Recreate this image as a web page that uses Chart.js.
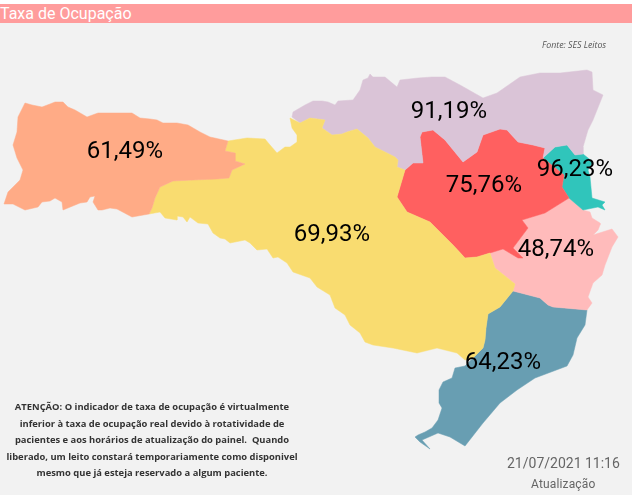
<!DOCTYPE html>
<html lang="pt">
<head>
<meta charset="utf-8">
<script src="https://cdn.jsdelivr.net/npm/chart.js@4"></script>
<style>
  html, body { margin: 0; padding: 0; background: #fff; }
  #page { position: relative; width: 640px; height: 495px; overflow: hidden; }
  #bg { position: absolute; left: 0; top: 23px; width: 632px; height: 472px; background: #f2f2f2; }
  #banner { position: absolute; left: 0; top: 4px; width: 632px; height: 19px; background: #ff9c9c; color: #fff;
    font: 400 16px/20px Roboto, sans-serif; white-space: nowrap; }
  #mapa { position: absolute; left: 0; top: 0; }
  .txt { position: absolute; white-space: nowrap; }
  #fonte { left: 542px; top: 38px; font: italic 8.8px/14px "Open Sans", sans-serif; color: #555; }
  #nota { left: 0; top: 399px; width: 304px; text-align: center; font: 700 9.4px/16.6px "Open Sans", sans-serif; color: #333; }
  #data { left: 507px; top: 454px; font: 400 14px/18px Roboto, sans-serif; color: #666; }
  #atual { left: 531px; top: 476px; font: 400 12px/16px Roboto, sans-serif; letter-spacing: 0.15px; color: #666; }
</style>
</head>
<body>
<div id="page">
  <div id="bg"></div>
  <div id="banner">Taxa de Ocupação</div>
  <canvas id="mapa" width="640" height="495"></canvas>
  <div class="txt" id="fonte">Fonte: SES Leitos</div>
  <div class="txt" id="nota">ATENÇÃO: O indicador de taxa de ocupação é virtualmente<br>inferior à taxa de ocupação real devido à rotatividade de<br>pacientes e aos horários de atualização do painel.&nbsp; Quando<br>liberado, um leito constará temporariamente como disponivel<br>mesmo que já esteja reservado a algum paciente.</div>
  <div class="txt" id="data">21/07/2021 11:16</div>
  <div class="txt" id="atual">Atualização</div>
</div>
<script>
// valores
const taxaOeste = "61,49%";
const taxaNorte = "91,19%";
const taxaVale = "75,76%";
const taxaGrandeFloripa = "96,23%";
const taxaMeioOeste = "69,93%";
const taxaFoz = "48,74%";
const taxaSul = "64,23%";

// contornos das regioes, em unidades do mapa
const oeste = [[25,103],[32,105],[42,107],[50,104],[55,102],[63,102],[68,107],[75,110],[87,117],[98,113],[113,113],[132,113],[140,118],[150,119],[157,120],[163,123],[177,123],[188,125],[200,132],[210,137],[228,141],[225,151],[235,153],[235,161],[245,164],[232,170],[229,178],[217,179],[193,180],[173,181],[160,187],[155,198],[152,208],[149,214],[132,217],[117,209],[110,208],[102,210],[98,210],[93,202],[95,196],[90,197],[87,202],[80,203],[63,210],[62,202],[55,198],[50,201],[42,202],[38,207],[25,210],[13,204],[4,204],[8,192],[20,180],[23,170],[17,158],[13,145],[17,132],[18,117]];
const meioOeste = [[228,141],[247,138],[265,139],[270,145],[277,153],[285,147],[290,147],[297,142],[297,135],[292,128],[290,118],[300,123],[310,118],[325,120],[322,128],[332,135],[342,134],[347,132],[357,129],[368,138],[375,147],[395,157],[398,160],[397,167],[405,170],[397,197],[407,212],[430,222],[453,245],[465,258],[477,257],[490,253],[495,268],[515,284],[513,291],[500,307],[488,314],[486,328],[485,340],[483,348],[473,358],[465,360],[457,353],[437,348],[417,353],[393,348],[373,345],[365,342],[360,333],[350,325],[345,315],[335,308],[330,295],[317,287],[310,278],[293,272],[287,263],[278,257],[273,258],[267,249],[257,250],[250,243],[245,240],[230,243],[225,239],[220,238],[213,233],[208,224],[198,223],[190,217],[187,222],[183,217],[177,216],[177,220],[165,218],[160,212],[149,214],[152,208],[155,198],[160,187],[173,181],[229,178],[232,170],[245,164],[235,161],[235,153],[225,151]];
const norte = [[293,112],[305,105],[313,101],[322,101],[328,102],[335,105],[338,101],[353,100],[360,90],[363,80],[368,78],[370,74],[373,77],[385,77],[397,87],[400,80],[418,78],[432,77],[445,77],[460,85],[483,98],[497,93],[520,77],[540,73],[560,73],[587,70],[592,72],[593,90],[603,95],[593,120],[588,130],[583,147],[583,154],[575,155],[567,145],[555,147],[543,158],[545,148],[533,145],[518,142],[507,130],[500,129],[483,135],[477,152],[463,162],[445,140],[433,130],[422,132],[420,137],[423,163],[413,163],[405,170],[397,167],[398,160],[395,157],[375,147],[368,138],[357,129],[347,132],[342,134],[332,135],[322,128],[325,120],[310,118],[300,123],[292,117]];
const vale = [[422,132],[433,130],[445,140],[463,162],[477,152],[483,135],[500,129],[507,130],[518,142],[533,145],[545,148],[543,158],[564,175],[562,187],[569,198],[545,213],[522,220],[528,228],[513,248],[523,258],[518,258],[503,249],[490,253],[477,257],[465,258],[453,245],[430,222],[407,212],[397,197],[405,170],[413,163],[423,163],[420,137]];
const grandeFloripa = [[543,158],[555,147],[567,145],[575,155],[583,154],[593,162],[588,170],[590,177],[592,198],[605,202],[602,205],[605,210],[598,207],[583,210],[569,198],[562,187],[564,175]];
const foz = [[490,253],[503,249],[518,258],[523,258],[513,248],[528,228],[522,220],[545,213],[569,198],[583,210],[590,212],[592,218],[600,223],[600,225],[598,230],[593,235],[612,229],[618,237],[612,247],[605,265],[602,275],[593,283],[588,297],[592,303],[587,310],[553,307],[548,305],[540,298],[513,291],[515,284],[495,268]];
const sul = [[513,291],[540,298],[548,305],[553,307],[587,310],[585,325],[577,338],[573,355],[567,366],[535,378],[517,390],[500,403],[483,423],[465,446],[450,437],[438,433],[422,440],[430,449],[420,442],[415,437],[418,435],[425,432],[432,428],[438,420],[442,408],[439,403],[439,390],[443,382],[452,378],[455,368],[465,366],[473,358],[483,348],[485,340],[486,328],[488,314],[500,307]];

const regioes = [oeste, meioOeste, norte, vale, grandeFloripa, foz, sul];
const cores = ["#ffab86", "#f9dc70", "#dac4d7", "#ff6060", "#30c5bb", "#ffbbbb", "#689eb2"];
const taxas = [taxaOeste, taxaMeioOeste, taxaNorte, taxaVale, taxaGrandeFloripa, taxaFoz, taxaSul];
const taxaX = [125, 332, 449, 484, 575, 556, 503];
const taxaY = [152, 235, 112, 186, 170, 250, 363];

const rotulos = {
  id: "rotulos",
  afterDatasetsDraw(chart) {
    const { ctx, scales } = chart;
    ctx.save();
    ctx.font = "400 24px Roboto, sans-serif";
    ctx.fillStyle = "#000";
    ctx.textAlign = "center";
    ctx.textBaseline = "middle";
    taxas.forEach((t, i) => ctx.fillText(t, scales.x.getPixelForValue(taxaX[i]), scales.y.getPixelForValue(taxaY[i])));
    ctx.restore();
  },
};

new Chart(document.getElementById("mapa"), {
  type: "scatter",
  data: {
    datasets: regioes.map((r, i) => ({
      data: r.concat([r[0]]).map((p) => ({ x: p[0], y: p[1] })),
      showLine: true,
      fill: "shape",
      tension: 0,
      pointRadius: 0,
      borderWidth: 0.5,
      borderColor: cores[i],
      backgroundColor: cores[i],
    })),
  },
  options: {
    responsive: false,
    animation: false,
    layout: { padding: 0 },
    plugins: { legend: { display: false }, tooltip: { enabled: false } },
    scales: {
      x: { type: "linear", min: 0, max: 640, display: false },
      y: { type: "linear", min: 0, max: 495, reverse: true, display: false },
    },
  },
  plugins: [rotulos],
});
</script>
</body>
</html>
